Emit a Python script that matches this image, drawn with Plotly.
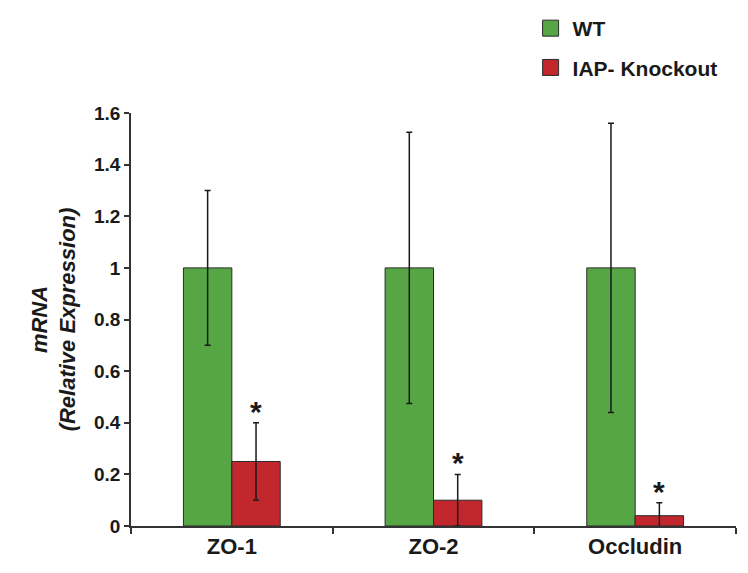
import plotly.graph_objects as go

categories = ["ZO-1", "ZO-2", "Occludin"]
wt_values = [1.0, 1.0, 1.0]
wt_errors = [0.30, 0.525, 0.56]
ko_values = [0.25, 0.10, 0.04]
ko_errors = [0.15, 0.10, 0.05]
y_ticks = [0, 0.2, 0.4, 0.6, 0.8, 1, 1.2, 1.4, 1.6]
y_tick_labels = ["0", "0.2", "0.4", "0.6", "0.8", "1", "1.2", "1.4", "1.6"]

FONT = "Liberation Sans, Arial, sans-serif"
GREEN = "#56A646"
RED = "#C1272D"
EDGE = "#2b2b2b"
bargap = 0.52

fig = go.Figure()
fig.add_trace(go.Bar(
    x=categories, y=wt_values, name="WT", showlegend=False,
    marker=dict(color=GREEN, line=dict(color=EDGE, width=1)),
    error_y=dict(type="data", array=wt_errors, visible=True, color="#1a1a1a", thickness=1.5, width=3),
))
fig.add_trace(go.Bar(
    x=categories, y=ko_values, name="IAP- Knockout", showlegend=False,
    marker=dict(color=RED, line=dict(color=EDGE, width=1)),
    error_y=dict(type="data", array=ko_errors, visible=True, color="#1a1a1a", thickness=1.5, width=3),
))
# legend entries (square swatches)
for name, col, grp in [("<b>WT</b>", GREEN, "a"), ("<b>IAP- Knockout</b>", RED, "b")]:
    fig.add_trace(go.Scatter(
        x=[None], y=[None], mode="markers", name=name, legendgroup=grp, showlegend=True,
        marker=dict(symbol="square", size=16, color=col, line=dict(color=EDGE, width=1)),
    ))

bar_w = (1 - bargap) / 2
for i, (v, e) in enumerate(zip(ko_values, ko_errors)):
    fig.add_annotation(x=i + bar_w / 2, y=v + e, xref="x", yref="y", text="<b>*</b>",
                       showarrow=False, yanchor="bottom", yshift=-7,
                       font=dict(size=30, color="#1a1a1a", family=FONT))

fig.update_layout(
    width=748, height=573,
    margin=dict(l=123, r=20, t=105, b=55, autoexpand=False),
    paper_bgcolor="white", plot_bgcolor="white",
    barmode="group", bargap=bargap, bargroupgap=0,
    font=dict(family=FONT, color="#1a1a1a"),
    showlegend=True,
    legend=dict(x=0.696, y=1.008, xanchor="left", yanchor="top", xref="container", yref="container",
                font=dict(size=21, family=FONT, color="#1a1a1a"),
                tracegroupgap=9, bgcolor="rgba(0,0,0,0)", itemwidth=34),
)
fig.update_yaxes(
    range=[0, 1.6], tickvals=y_ticks, ticktext=["<b>%s</b>" % t for t in y_tick_labels],
    ticks="outside", ticklen=5, tickwidth=1.5, tickcolor="#333",
    showline=True, linecolor="#333", linewidth=1.5, showgrid=False, zeroline=False,
    tickfont=dict(size=19, family=FONT, color="#1a1a1a"), automargin=False,
    title=dict(text="<b><i>mRNA</i></b><br><b><i>(Relative Expression)</i></b>",
               font=dict(size=22, family=FONT, color="#1a1a1a"), standoff=12),
)
fig.update_xaxes(
    ticktext=["<b>%s</b>" % c for c in categories], tickvals=categories,
    tickson="boundaries", ticks="outside", ticklen=6, tickwidth=1.5, tickcolor="#333",
    showline=True, linecolor="#333", linewidth=1.5, showgrid=False, automargin=False,
    tickfont=dict(size=22, family=FONT, color="#1a1a1a"),
)

fig.write_html("out.html")
